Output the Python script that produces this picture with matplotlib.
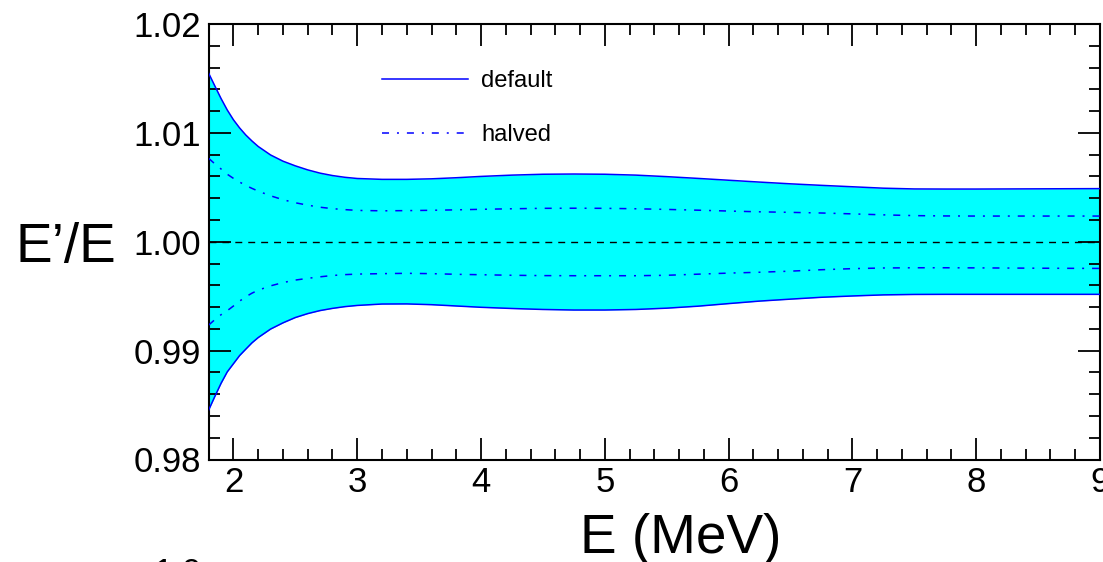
import matplotlib
matplotlib.use("Agg")
import matplotlib.pyplot as plt
from matplotlib.ticker import MultipleLocator, FixedLocator, FixedFormatter

plt.rcParams['font.family'] = ['Liberation Sans', 'DejaVu Sans']

# ---- data ----
energy = [1.80, 1.85, 1.90, 1.95, 2.00, 2.05, 2.10, 2.15, 2.20, 2.30, 2.40, 2.50,
          2.60, 2.70, 2.80, 2.90, 3.00, 3.20, 3.40, 3.60, 3.80, 4.00, 4.25, 4.50,
          4.75, 5.00, 5.25, 5.50, 5.75, 6.00, 6.25, 6.50, 6.75, 7.00, 7.25, 7.50,
          7.75, 8.00, 8.50, 9.00]
default_upper = [1.01547, 1.01430, 1.01315, 1.01210, 1.01120, 1.01045, 1.00980,
                 1.00925, 1.00875, 1.00797, 1.00740, 1.00697, 1.00660, 1.00630,
                 1.00608, 1.00592, 1.00581, 1.00573, 1.00573, 1.00578, 1.00588,
                 1.00600, 1.00612, 1.00620, 1.00622, 1.00620, 1.00612, 1.00598,
                 1.00582, 1.00565, 1.00548, 1.00532, 1.00518, 1.00505, 1.00492,
                 1.00485, 1.00484, 1.00484, 1.00486, 1.00488]
default_lower = [0.98455, 0.98580, 0.98700, 0.98805, 0.98880, 0.98955, 0.99014,
                 0.99072, 0.99120, 0.99198, 0.99255, 0.99304, 0.99340, 0.99368,
                 0.99388, 0.99404, 0.99415, 0.99428, 0.99429, 0.99422, 0.99410,
                 0.99398, 0.99387, 0.99378, 0.99373, 0.99373, 0.99378, 0.99390,
                 0.99408, 0.99432, 0.99455, 0.99473, 0.99490, 0.99502, 0.99512,
                 0.99516, 0.99517, 0.99517, 0.99517, 0.99517]
halved_upper = [1.00766, 1.00715, 1.00668, 1.00620, 1.00582, 1.00548, 1.00517,
                1.00490, 1.00465, 1.00422, 1.00386, 1.00358, 1.00336, 1.00317,
                1.00304, 1.00295, 1.00288, 1.00284, 1.00286, 1.00289, 1.00293,
                1.00298, 1.00303, 1.00307, 1.00308, 1.00307, 1.00303, 1.00297,
                1.00290, 1.00282, 1.00275, 1.00270, 1.00264, 1.00256, 1.00247,
                1.00240, 1.00237, 1.00236, 1.00236, 1.00236]
halved_lower = [0.99235, 0.99285, 0.99330, 0.99367, 0.99410, 0.99455, 0.99495,
                0.99528, 0.99555, 0.99595, 0.99625, 0.99648, 0.99664, 0.99678,
                0.99690, 0.99698, 0.99703, 0.99707, 0.99710, 0.99707, 0.99701,
                0.99697, 0.99692, 0.99689, 0.99688, 0.99688, 0.99688, 0.99692,
                0.99702, 0.99712, 0.99720, 0.99730, 0.99743, 0.99753, 0.99759,
                0.99761, 0.99761, 0.99760, 0.99757, 0.99755]
nominal = 1.0

x_ticks = [2, 3, 4, 5, 6, 7, 8, 9]
x_ticklabels = ['2', '3', '4', '5', '6', '7', '8', '9']
y_ticks = [0.98, 0.99, 1.00, 1.01, 1.02]
y_ticklabels = ['0.98', '0.99', '1.00', '1.01', '1.02']
series_labels = ['default', 'halved']
x_title = 'E (MeV)'
y_title = 'E\u2019/E'

# ---- figure ----
W, H = 1103, 562
fig = plt.figure(figsize=(W / 100, H / 100), dpi=100)
left_px, right_px, top_px, bot_px = 208.7, 1100.0, 24.0, 459.5
ax = fig.add_axes([left_px / W, 1 - bot_px / H,
                   (right_px - left_px) / W, (bot_px - top_px) / H])

blue = '#0000FF'
ax.fill_between(energy, default_lower, default_upper, color='#00FFFF', lw=0, zorder=1)
ln_def, = ax.plot(energy, default_upper, color=blue, lw=1.1, zorder=3,
                  solid_joinstyle='round', label=series_labels[0])
ax.plot(energy, default_lower, color=blue, lw=1.1, zorder=3, solid_joinstyle='round')
dd = (4.6, 5.2, 1.3, 5.2)
ln_half, = ax.plot(energy, halved_upper, color=blue, lw=1.1, zorder=3,
                   dashes=dd, label=series_labels[1])
ax.plot(energy, halved_lower, color=blue, lw=1.1, zorder=3, dashes=dd)
ax.axhline(nominal, color='black', lw=1.0, dashes=(5, 4.3), zorder=2)

ax.set_xlim(1.8, 9.0)
ax.set_ylim(0.98, 1.02)

ax.xaxis.set_major_locator(FixedLocator(x_ticks))
ax.xaxis.set_major_formatter(FixedFormatter(x_ticklabels))
ax.xaxis.set_minor_locator(MultipleLocator(0.2))
ax.yaxis.set_major_locator(FixedLocator(y_ticks))
ax.yaxis.set_major_formatter(FixedFormatter(y_ticklabels))
ax.yaxis.set_minor_locator(MultipleLocator(0.002))

for s in ax.spines.values():
    s.set_linewidth(1.5)
ax.tick_params(which='both', direction='in', top=True, right=True, width=1.3,
               labelsize=25)
ax.tick_params(which='major', length=16)
ax.tick_params(which='minor', length=8)
ax.tick_params(axis='x', which='major', pad=4.5)
ax.tick_params(axis='y', which='major', pad=5.3)

ax.set_xlabel(x_title, fontsize=39.5, ha='left', va='baseline')
ax.xaxis.set_label_coords((580 - left_px) / (right_px - left_px),
                          -(552.7 - bot_px) / (bot_px - top_px))
ax.set_ylabel(y_title, fontsize=39.5, rotation=0, ha='right', va='baseline')
ax.yaxis.set_label_coords((116 - left_px) / (right_px - left_px),
                          (bot_px - 261.7) / (bot_px - top_px))

leg_fs_px = 23.7
ax.legend(handles=[ln_def, ln_half], loc='upper left', frameon=False,
          fontsize=leg_fs_px * 0.72, borderpad=0, borderaxespad=0,
          handlelength=86 / leg_fs_px, handletextpad=13 / leg_fs_px,
          labelspacing=1.37,
          bbox_to_anchor=((382 - left_px) / (right_px - left_px),
                          1 - (70 - top_px) / (bot_px - top_px)))

# partial label of the panel below (cut by figure edge, as in the reference)
fig.text(201.7 / W, 1 - 556.7 / H, '1.0', ha='right', va='top', fontsize=25)

fig.savefig('out.png', dpi=100)
